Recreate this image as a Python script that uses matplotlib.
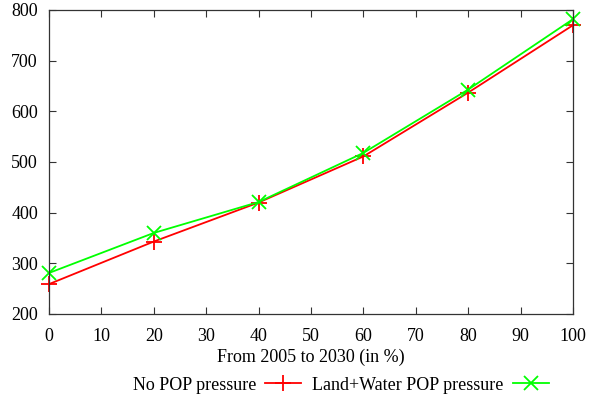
import matplotlib
matplotlib.use('Agg')
import matplotlib.pyplot as plt

plt.rcParams['font.family'] = ['Liberation Serif', 'DejaVu Serif']

x = [0, 20, 40, 60, 80, 100]
no_pop = [259, 343, 420, 511, 637, 770]
land_water = [281, 360, 421, 518, 643, 782]

fig = plt.figure(figsize=(6.02, 4.0), dpi=100)
ax = fig.add_axes([49 / 602, 1 - 314 / 400, 524 / 602, 304 / 400])

ax.plot(x, no_pop, color='#ff0000', lw=1.3, marker='+', ms=11, mew=1.3,
        label='No POP pressure', clip_on=False)
ax.plot(x, land_water, color='#00ff00', lw=1.3, marker='x', ms=10, mew=1.3,
        label='Land+Water POP pressure', clip_on=False)

ax.set_xlim(0, 100)
ax.set_ylim(200, 800)
ax.set_xticks(range(0, 101, 10))
ax.set_yticks(range(200, 801, 100))
ax.tick_params(direction='in', length=5, width=0.8, top=True, right=True,
               labelsize=13, color='#333333')
ax.tick_params(axis='x', pad=10)
ax.tick_params(axis='y', pad=8)
for s in ax.spines.values():
    s.set_color('#333333')
    s.set_linewidth(0.9)
ax.set_xlabel('From 2005 to 2030 (in %)', fontsize=13, labelpad=3)

ax.legend(loc='center', bbox_to_anchor=(0.557, -0.234), ncol=2,
          frameon=False, markerfirst=False, fontsize=13, handlelength=2.0,
          columnspacing=0.6, handletextpad=0.5, borderpad=0)

fig.savefig('out.png', dpi=100)
